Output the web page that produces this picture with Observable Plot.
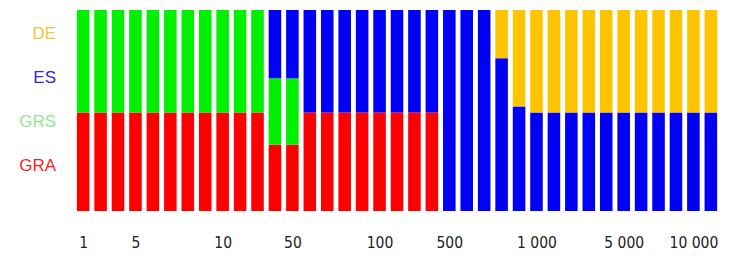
<!DOCTYPE html>
<html><head><meta charset="utf-8">
<script src="https://cdn.jsdelivr.net/npm/d3@7"></script>
<script src="https://cdn.jsdelivr.net/npm/@observablehq/plot@0.6"></script>
<style>
body{margin:0;background:#fff;}
#wrap{position:relative;width:729px;height:260px;}
#legend{position:absolute;left:0;top:12px;width:56px;text-align:right;font-family:"Liberation Sans",Arial,sans-serif;font-size:17px;line-height:44px;}
#legend div{white-space:nowrap;}
</style></head><body><div id="wrap"><div id="legend"></div></div>
<script>
// categories: bar keys 1..37
const bars = [1,2,3,4,5,6,7,8,9,10,11,12,13,14,15,16,17,18,19,20,21,22,23,24,25,26,27,28,29,30,31,32,33,34,35,36,37];
// series values (percent of each bar)
const GRA = [49,49,49,49,49,49,49,49,49,49,49,33,33,49,49,49,49,49,49,49,49,0,0,0,0,0,0,0,0,0,0,0,0,0,0,0,0];
const GRS = [51,51,51,51,51,51,51,51,51,51,51,33,33,0,0,0,0,0,0,0,0,0,0,0,0,0,0,0,0,0,0,0,0,0,0,0,0];
const ES  = [0,0,0,0,0,0,0,0,0,0,0,34,34,51,51,51,51,51,51,51,51,100,100,100,76,52,49,49,49,49,49,49,49,49,49,49,49];
const DE  = [0,0,0,0,0,0,0,0,0,0,0,0,0,0,0,0,0,0,0,0,0,0,0,0,24,48,51,51,51,51,51,51,51,51,51,51,51];
const seriesNames = ["GRA","GRS","ES","DE"];
const seriesColors = ["#ff0000","#00f000","#0000f5","#ffc400"];
const legendColors = {DE:"#f8c434", ES:"#2a2ad8", GRS:"#8ee88e", GRA:"#ff1f1f"};
// tick labels
const tickBars = [1,4,9,13,18,22,27,32,36];
const tickLabels = ["1","5","10","50","100","500","1 000","5 000","10 000"];

const seriesValues = {GRA, GRS, ES, DE};
const data = [];
for (const s of seriesNames) {
  seriesValues[s].forEach((v,i) => { if (v > 0) data.push({bar: bars[i], series: s, value: v}); });
}
const labelMap = new Map(tickBars.map((b,i) => [b, tickLabels[i]]));

const chart = Plot.plot({
  width: 729,
  height: 260,
  marginLeft: 72,
  marginRight: 7,
  marginTop: 10,
  marginBottom: 49,
  style: {fontFamily: '"DejaVu Sans Condensed","DejaVu Sans",sans-serif', background: "#fff"},
  x: {domain: bars, padding: 0.28, round: false, axis: null, label: null},
  y: {domain: [0,100], axis: null},
  color: {domain: seriesNames, range: seriesColors},
  marks: [
    Plot.barY(data, {x: "bar", y: "value", fill: "series", inset: 0}),
    Plot.axisX({ticks: tickBars, tickFormat: d => labelMap.get(d), tickSize: 0, tickPadding: 25, fontSize: 15.5, fill: "#222", label: null})
  ]
});
document.getElementById("wrap").appendChild(chart);

const legend = document.getElementById("legend");
for (const s of ["DE","ES","GRS","GRA"]) {
  const d = document.createElement("div");
  d.textContent = s;
  d.style.color = legendColors[s];
  legend.appendChild(d);
}
</script>
</body></html>
